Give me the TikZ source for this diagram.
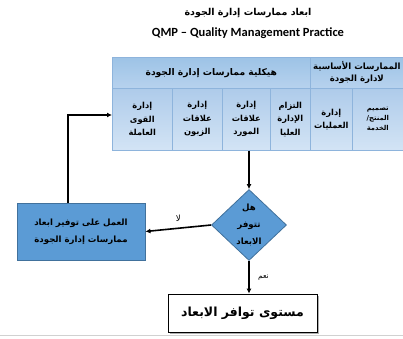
\documentclass[tikz,border=0pt]{standalone}
\usepackage{fontspec}
\setmainfont{Carlito}
\newfontfamily\arb[Script=Arabic]{DejaVu Sans}
\TeXXeTstate=1
\usetikzlibrary{shapes.geometric,arrows.meta,shadows}
\definecolor{boxblue}{HTML}{5B9BD5}
\definecolor{boxedge}{HTML}{41719C}
\definecolor{hdrtop}{HTML}{9DC3E6}
\definecolor{hdrbot}{HTML}{B7D2EE}
\definecolor{celltop}{HTML}{AECBEA}
\definecolor{cellbot}{HTML}{D3E4F5}
\definecolor{gridline}{HTML}{8EB4DC}
\newcommand\AR[1]{\beginR#1\endR}
\begin{document}
\begin{tikzpicture}[x=1pt,y=-1pt,
  hdr/.style={draw=gridline, line width=0.6pt, top color=hdrtop, bottom color=hdrbot,
    anchor=north west, inner sep=1pt, align=center, minimum height=31pt,
    font=\arb\bfseries\fontsize{9.2}{12}\selectfont, text=black},
  cell/.style={draw=gridline, line width=0.6pt, top color=celltop, bottom color=cellbot,
    anchor=north west, inner sep=1pt, align=center, minimum height=62pt,
    font=\arb\bfseries\fontsize{8.3}{13.5}\selectfont, text=black},
  flowbox/.style={draw=boxedge, line width=0.8pt, fill=boxblue, align=center,
    font=\arb\bfseries\fontsize{8.6}{17}\selectfont, text=black},
  conn/.style={line width=1.6pt, -{Latex[length=5pt,width=5pt]}},
  lbl/.style={font=\arb\fontsize{8.5}{10}\selectfont}
]
\useasboundingbox (0,0) rectangle (403,338);

% titles
\node[font=\arb\bfseries\fontsize{9.5}{11}\selectfont] (t1) at (248,13) {\AR{ابعاد ممارسات إدارة الجودة}};
\node[font=\bfseries\fontsize{12.5}{14}\selectfont] (t2) at (248,33) {QMP -- Quality Management Practice};

% table header
\node[hdr, minimum width=198pt] (h1) at (112,57) {\AR{هيكلية ممارسات إدارة الجودة}};
\node[hdr, minimum width=93pt, font=\arb\bfseries\fontsize{8.6}{12}\selectfont] (h2) at (310,57) {\AR{الممارسات الأساسية}\\\AR{لادارة الجودة}};

% table cells
\node[cell, minimum width=60pt] (c1) at (112,88) {\AR{إدارة}\\\AR{القوى}\\\AR{العاملة}};
\node[cell, minimum width=50pt] (c2) at (172,88) {\AR{إدارة}\\\AR{علاقات}\\\AR{الزبون}};
\node[cell, minimum width=48pt] (c3) at (222,88) {\AR{إدارة}\\\AR{علاقات}\\\AR{المورد}};
\node[cell, minimum width=40pt] (c4) at (270,88) {\AR{التزام}\\\AR{الإدارة}\\\AR{العليا}};
\node[cell, minimum width=42pt] (c5) at (310,88) {\AR{إدارة}\\\AR{العمليات}};
\node[cell, minimum width=51pt, font=\arb\bfseries\fontsize{6.8}{10}\selectfont] (c6) at (352,88) {\AR{تصميم}\\\AR{المنتج/}\\\AR{الخدمة}};

% decision
\node[diamond, draw=boxedge, line width=0.8pt, fill=boxblue, minimum width=75pt, minimum height=71pt,
  inner sep=0pt, align=center, font=\arb\bfseries\fontsize{8.6}{17}\selectfont, text=black]
  (dia) at (249,225) {\AR{هل}\\\AR{تتوفر}\\\AR{الابعاد}};

% work box
\node[flowbox, minimum width=128pt, minimum height=57pt] (work) at (81,231.5)
  {\AR{العمل على توفير ابعاد}\\\AR{ممارسات إدارة الجودة}};

% result box
\node[draw=black, line width=0.8pt, fill=white, minimum width=149pt, minimum height=38pt,
  drop shadow={shadow xshift=2pt, shadow yshift=-2pt, fill=black!45, opacity=0.7},
  font=\arb\bfseries\fontsize{12.5}{14}\selectfont] (res) at (242.5,313) {\AR{مستوى توافر الابعاد}};

% connectors
\coordinate (lp) at (68,115);
\draw[conn] (c3.south -| dia.north) -- (dia.north);
\draw[conn] (dia.west) -- node[lbl, above=3pt] {\AR{لا}} (work.east);
\draw[conn] (dia.south) -- node[lbl, right=5pt, font=\arb\fontsize{7.5}{9}\selectfont] {\AR{نعم}} (res.north -| dia.south);
\draw[conn] (work.north -| lp) -- (lp) -- (lp -| c1.west);

% bottom rule
\draw[black!18, line width=1pt] (0,335.5) -- (403,335.5);
\end{tikzpicture}
\end{document}
